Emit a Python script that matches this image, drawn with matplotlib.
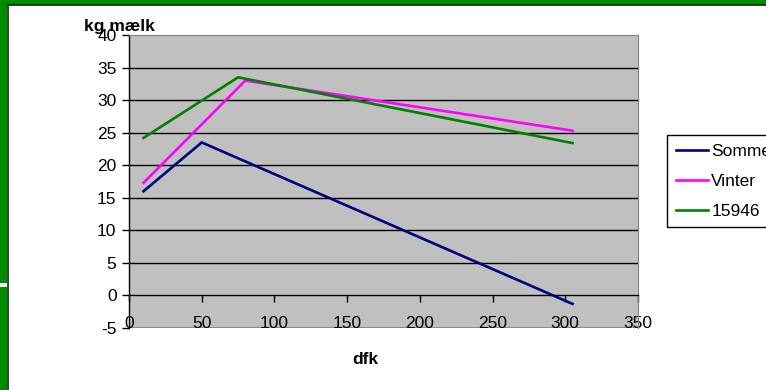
import numpy as np
import matplotlib
matplotlib.use("Agg")
import matplotlib.pyplot as plt
from matplotlib.patches import Rectangle
matplotlib.rc('font', family=['Liberation Sans', 'DejaVu Sans'], size=12.5)
matplotlib.rcParams['axes.unicode_minus'] = False

# data
somme_x = [10, 50, 305]
somme_y = [16.0, 23.5, -1.3]
vinter_x = [10, 80, 305]
vinter_y = [17.3, 33.0, 25.3]
g15946_x = [10, 75, 305]
g15946_y = [24.2, 33.5, 23.4]

x_ticks = [0, 50, 100, 150, 200, 250, 300, 350]
y_ticks = [-5, 0, 5, 10, 15, 20, 25, 30, 35, 40]

fig = plt.figure(figsize=(7.66, 3.9), dpi=100)
fig.patch.set_facecolor('white')

# green frame on top and left
fig.patches.append(Rectangle((0, 1 - 5/390), 1, 5/390, transform=fig.transFigure,
                             facecolor='#008c00', edgecolor='none', zorder=0))
fig.patches.append(Rectangle((0, 0), 7/766, 1, transform=fig.transFigure,
                             facecolor='#008c00', edgecolor='none', zorder=0))
fig.lines.append(plt.Line2D([7.5/766, 1], [1 - 5/390, 1 - 5/390], transform=fig.transFigure,
                            color='#0a2a0a', lw=1.2))
fig.lines.append(plt.Line2D([7.5/766, 7.5/766], [0, 1 - 5/390], transform=fig.transFigure,
                            color='#0a2a0a', lw=1.2))
fig.patches.append(Rectangle((0, 1 - 287/390), 7/766, 4/390, transform=fig.transFigure,
                             facecolor='#f4f4f4', edgecolor='none', zorder=1))

ax = fig.add_axes([129/766, 1 - 328/390, 509/766, 293/390])
ax.set_facecolor('#c0c0c0')

for y in y_ticks[2:-1]:
    ax.axhline(y, color='black', lw=1.0, zorder=1)
ax.axhline(-5, color='#808080', lw=1.2, zorder=1)

ax.plot(somme_x, somme_y, color='#000080', lw=1.9, label='Sommer', zorder=3)
ax.plot(vinter_x, vinter_y, color='#ff00ff', lw=1.9, label='Vinter', zorder=3)
ax.plot(g15946_x, g15946_y, color='#008000', lw=1.9, label='15946', zorder=3)

ax.set_xlim(0, 350)
ax.set_ylim(-5, 40)
ax.set_xticks(x_ticks)
ax.set_yticks(y_ticks)

ax.spines['bottom'].set_position(('data', 0))
ax.spines['bottom'].set_linewidth(1.0)
ax.spines['left'].set_linewidth(1.0)
ax.spines['top'].set_color('#808080')
ax.spines['right'].set_color('#808080')
ax.tick_params(axis='y', direction='out', length=5, width=1, pad=4)
ax.tick_params(axis='x', direction='out', length=5, width=1, pad=9.5)

fig.text(119/766, 1 - 26/390, 'kg mælk', ha='center', va='center',
         fontweight='bold', fontsize=12.5)
fig.text(365/766, 1 - 359/390, 'dfk', ha='center', va='center',
         fontweight='bold', fontsize=12.5)

leg = ax.legend(loc='upper left', bbox_to_anchor=(667/766, 1 - 135/390),
                bbox_transform=fig.transFigure, frameon=True, fancybox=False,
                edgecolor='black', framealpha=1, handlelength=1.85,
                handletextpad=0.2, labelspacing=0.85, borderpad=0.5,
                borderaxespad=0)
leg.get_frame().set_linewidth(1.0)

fig.savefig('out.png', dpi=100)
